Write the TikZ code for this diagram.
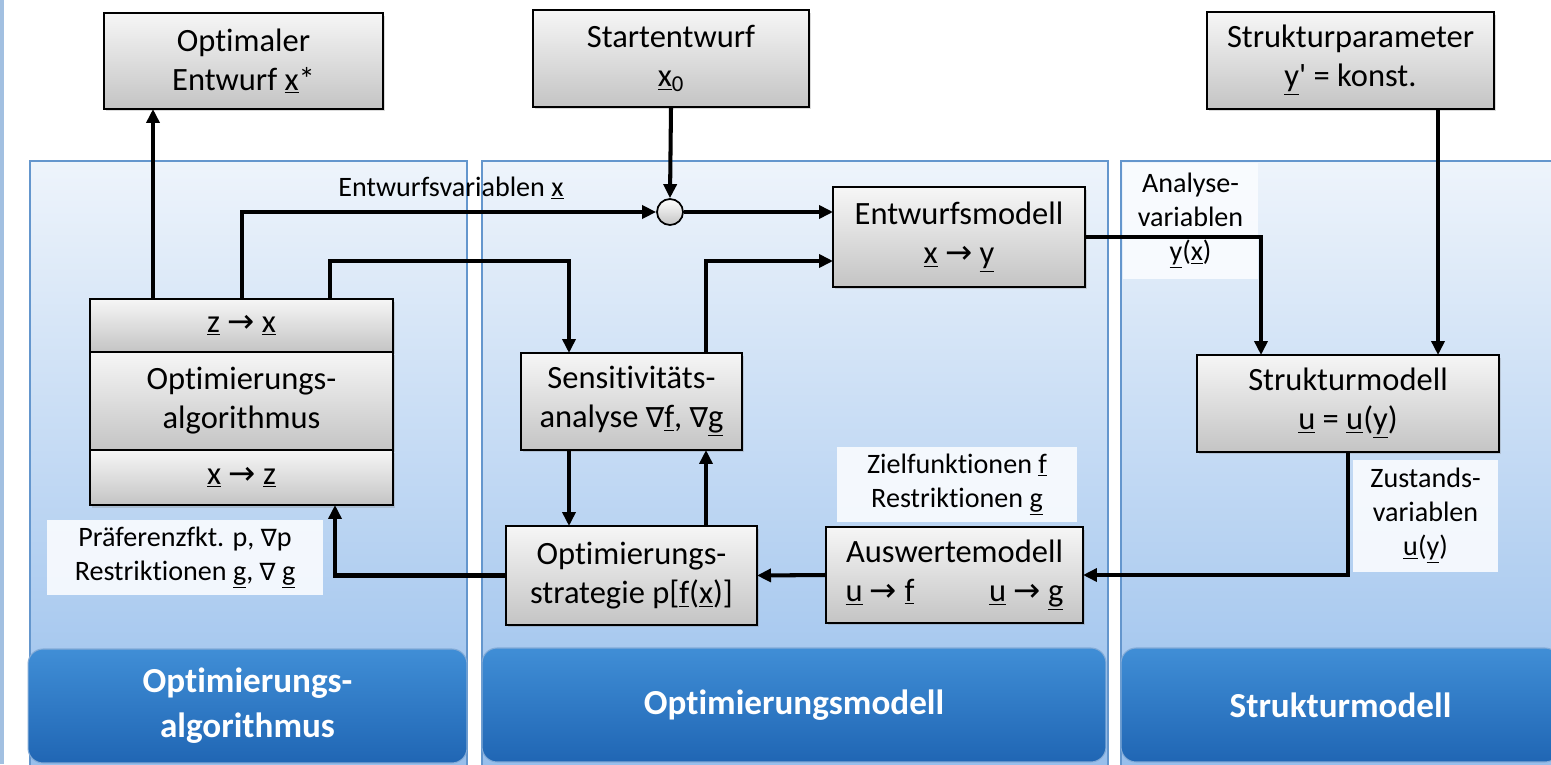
\documentclass[tikz,border=0pt]{standalone}
\usepackage{fontspec}
\setmainfont{Carlito}[Ligatures=CommonOff]
\newfontfamily\symf{DejaVu Sans}[Scale=0.85]
\newfontfamily\arrf{DejaVu Sans}[Scale=1.0]
\usetikzlibrary{arrows.meta,shadows}
\definecolor{boxtop}{RGB}{246,246,246}
\definecolor{boxbot}{RGB}{196,196,196}
\definecolor{pantop}{RGB}{238,244,251}
\definecolor{panbot}{RGB}{150,190,236}
\definecolor{panline}{RGB}{100,150,205}
\definecolor{headtop}{RGB}{64,142,214}
\definecolor{headbot}{RGB}{32,102,180}
\definecolor{lblbg}{RGB}{250,252,255}
\newcommand{\vu}[1]{\underline{#1}}
\newcommand{\rarr}{{\arrf →}}
\newcommand{\nabl}{{\symf ∇}}
\newcommand{\bodyf}{\fontsize{18.5}{22.2}\selectfont}
\newcommand{\smallf}{\fontsize{16}{19.3}\selectfont}
\newcommand{\headf}{\fontsize{20}{25.6}\selectfont\bfseries}
\tikzset{
  box/.style={draw=black, line width=1.1pt, top color=boxtop, bottom color=boxbot,
    drop shadow={shadow xshift=0.04cm, shadow yshift=-0.05cm, opacity=0.28},
    align=center, inner sep=0pt, outer sep=0pt, font=\bodyf},
  con/.style={line width=2.3pt, line join=miter, -{Triangle[length=0.28cm,width=0.26cm]}},
  lbl/.style={fill=lblbg, fill opacity=0.9, text opacity=1, inner sep=0pt, align=center, font=\smallf},
  panel/.style={draw=panline, line width=0.6pt, top color=pantop, bottom color=panbot},
  head/.style={rounded corners=0.3cm, draw=panline!80, line width=0.6pt, top color=headtop,
    bottom color=headbot, text=white, align=center, font=\headf, minimum height=2.28cm}
}
\begin{document}
\begin{tikzpicture}[x=0.02cm,y=-0.02cm]
\useasboundingbox (0,0) rectangle (1551,764);
\fill[white] (0,0) rectangle (1551,764);
\fill[panline!60] (0,0) rectangle (4,764);
% panels
\path[panel] (30,161) rectangle (467,775);
\path[panel] (482,161) rectangle (1108,775);
\path[panel] (1121,161) rectangle (1575,775);
\node[head, minimum width=8.78cm] (h1) at (247.5,706) {Optimierungs-\\algorithmus};
\node[head, minimum width=12.48cm] (h2) at (794,705) {Optimierungsmodell};
\node[head, minimum width=8.78cm] (h3) at (1340.5,705) {Strukturmodell};
% labels
\node[inner sep=0pt, font=\smallf] (lx) at (451,188) {Entwurfsvariablen \vu{x}};
\node[lbl, minimum width=2.7cm, minimum height=2.32cm] (ly) at (1190.5,221) {Analyse-\\variablen\\\vu{y}(\vu{x})};
\node[lbl, minimum width=4.8cm, minimum height=1.5cm] (lf) at (957,484.5) {Zielfunktionen \vu{f}\\Restriktionen \vu{g}};
\node[lbl, minimum width=5.52cm, minimum height=1.5cm] (lp) at (185,557.5) {Präferenzfkt. p, \nabl p\\Restriktionen \vu{g}, \nabl\ \vu{g}};
\node[lbl, minimum width=2.9cm, minimum height=2.24cm] (lu) at (1425.5,516) {Zustands-\\variablen\\\vu{u}(\vu{y})};
% boxes
\node[box, minimum width=5.58cm, minimum height=1.92cm] (opt) at (243.5,61) {Optimaler\\Entwurf \vu{x}*};
\node[box, minimum width=5.52cm, minimum height=1.94cm] (start) at (671,58.5) {Startentwurf\\\vu{x}\textsubscript{0}};
\node[box, minimum width=5.74cm, minimum height=1.94cm] (spar) at (1350.5,60.5) {Strukturparameter\\\vu{y}\textquotesingle\ = konst.};
\node[box, minimum width=5.04cm, minimum height=2.0cm] (entw) at (959,237) {Entwurfsmodell\\\vu{x} \rarr\ \vu{y}};
\node[box, minimum width=6.06cm, minimum height=1.06cm] (algT) at (241.5,325.5) {\vu{z} \rarr\ \vu{x}};
\node[box, minimum width=6.06cm, minimum height=1.96cm] (algM) at (241.5,401) {Optimierungs-\\algorithmus};
\node[box, minimum width=6.06cm, minimum height=1.10cm] (algB) at (241.5,477.5) {\vu{x} \rarr\ \vu{z}};
\node[box, minimum width=4.42cm, minimum height=1.94cm] (sens) at (631.5,401.5) {Sensitivitäts-\\analyse \nabl\vu{f}, \nabl\vu{g}};
\node[box, minimum width=5.02cm, minimum height=1.98cm] (strat) at (631.5,575.5) {Optimierungs-\\strategie p[\vu{f}(\vu{x})]};
\node[box, minimum width=5.14cm, minimum height=1.92cm] (ausw) at (954.5,575) {Auswertemodell\\\makebox[4.36cm]{\vu{u} \rarr\ \vu{f}\hfill\vu{u} \rarr\ \vu{g}}};
\node[box, minimum width=6.04cm, minimum height=1.94cm] (smod) at (1348,403.5) {Strukturmodell\\\vu{u} = \vu{u}(\vu{y})};
\node[circle, draw=black, line width=1pt, top color=white, bottom color=boxbot, minimum size=0.52cm, inner sep=0pt] (circ) at (670,212) {};
% helper coordinates
\coordinate (c1) at (153,0);
\coordinate (c2) at (242,0);
\coordinate (c3) at (330,0);
\coordinate (c4) at (569,0);
\coordinate (c5) at (706,0);
\coordinate (c6) at (1261,0);
\coordinate (c7) at (1438,0);
\coordinate (c8) at (335,0);
\coordinate (r2) at (0,261);
% connectors
\draw[con] (c1 |- algT.north) -- (c1 |- opt.south);
\draw[con] (c2 |- algT.north) |- (circ.west);
\draw[con] (c3 |- algT.north) -- (c3 |- r2) -| (c4 |- sens.north);
\draw[con] (start.south) -- (circ.north);
\draw[con] (circ.east) -- (circ.east -| entw.west);
\draw[con] (c5 |- sens.north) -- (c5 |- r2) -- (entw.west |- r2);
\draw[con] (entw.east) -| (c6 |- smod.north);
\draw[con] (c7 |- spar.south) -- (c7 |- smod.north);
\draw[con] (smod.south) |- (ausw.east);
\draw[con] (ausw.west) -- (strat.east);
\draw[con] (c4 |- sens.south) -- (c4 |- strat.north);
\draw[con] (c5 |- strat.north) -- (c5 |- sens.south);
\draw[con] (strat.west) -| (c8 |- algB.south);
\end{tikzpicture}
\end{document}
